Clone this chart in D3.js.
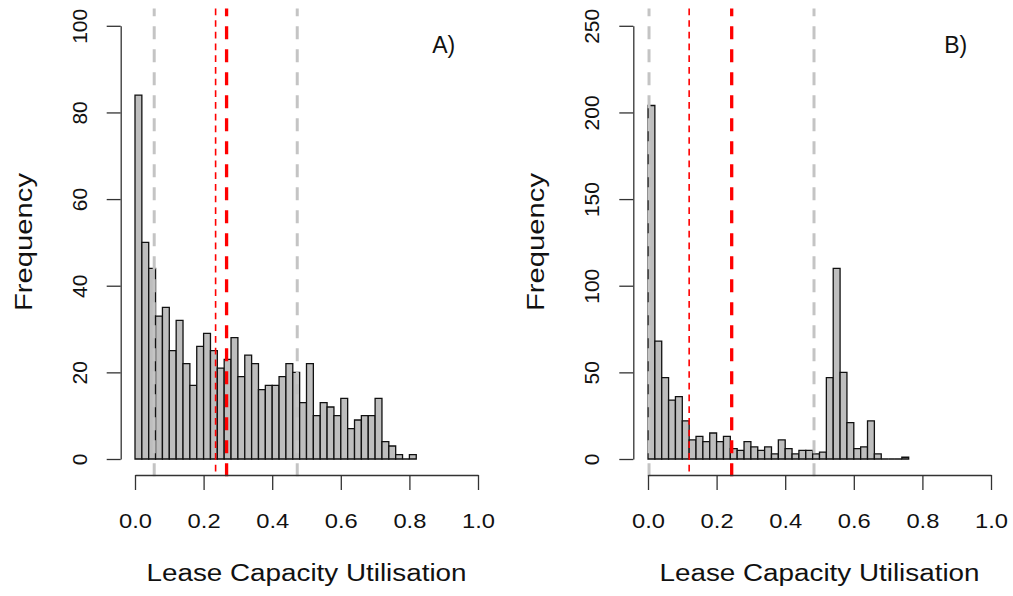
<!DOCTYPE html>
<html>
<head>
<meta charset="utf-8">
<script src="https://cdn.jsdelivr.net/npm/d3@7"></script>
<style>
  html, body { margin: 0; padding: 0; background: #fff; }
  svg { display: block; }
  text { font-family: "Liberation Sans", Arial, sans-serif; fill: #111; }
</style>
</head>
<body>
<svg id="chart" width="1013" height="596"></svg>
<script>
// ---- data ----
const binWidth = 0.02;
const countsA = [84,50,44,33,35,25,32,22,17,26,29,25,21,23,28,19,24,22,16,17,17,19,22,20,13,22,10,13,12,10,14,7,9,10,10,14,4,3,1,0,1];
const countsB = [204,68,47,34,36,22,11,13,10,15,10,13,6,5,10,7,5,7,3,11,6,3,5,5,3,4,47,110,50,21,6,7,22,3,0,0,0,1];
const xTicks = [0, 0.2, 0.4, 0.6, 0.8, 1.0];
const yTicksA = [0, 20, 40, 60, 80, 100];
const yTicksB = [0, 50, 100, 150, 200, 250];
const grayLinesA = [0.056, 0.473];
const redThinA = [0.235];
const redThickA = [0.267];
const grayLinesB = [0.003, 0.484];
const redThinB = [0.120];
const redThickB = [0.244];
const panelLabels = ["A)", "B)"];
const xLabel = "Lease Capacity Utilisation";
const yLabel = "Frequency";

const svg = d3.select("#chart");

function stretch(sel, factor) {
  sel.each(function() {
    const len = this.getComputedTextLength();
    d3.select(this).attr("textLength", len * factor).attr("lengthAdjust", "spacingAndGlyphs");
  });
}

function panel(opts) {
  const { counts, yMax, yTicks, x0, yAxisX, grays, redThin, redThick, label } = opts;
  const x = d3.scaleLinear().domain([0, 1]).range([x0, x0 + 343]);
  const y = d3.scaleLinear().domain([0, yMax]).range([459, 25.8]);
  const g = svg.append("g");
  const pad = yMax * 0.04;

  // bars (paths so that zero-count bins still draw a baseline segment)
  const bins = counts.map((c, i) => ({ x0: i * binWidth, x1: (i + 1) * binWidth, c }));
  g.selectAll("path.bar").data(bins).join("path")
    .attr("class", "bar")
    .attr("d", d => `M${x(d.x0)},${y(0)}H${x(d.x1)}V${y(d.c)}H${x(d.x0)}Z`)
    .attr("fill", "#bebebe")
    .attr("stroke", "#111")
    .attr("stroke-width", 1.3);

  // reference lines
  const yTop = y(yMax + pad), yBot = y(-pad);
  const lineSets = [
    { vals: grays, color: "#c4c4c4", w: 3, dash: "13,10", off: -17.7 + 23 },
    { vals: redThin, color: "#ff0000", w: 1.6, dash: "6.7,5", off: 0 },
    { vals: redThick, color: "#ff0000", w: 3.3, dash: "13,10", off: -17.7 + 23 }
  ];
  lineSets.forEach(s => {
    g.selectAll(null).data(s.vals).join("line")
      .attr("x1", d => x(d)).attr("x2", d => x(d))
      .attr("y1", yTop).attr("y2", yBot)
      .attr("stroke", s.color)
      .attr("stroke-width", s.w)
      .attr("stroke-dasharray", s.dash)
      .attr("stroke-dashoffset", s.off);
  });

  // x axis
  const xa = g.append("g").attr("transform", "translate(0,475)")
    .call(d3.axisBottom(x).tickValues(xTicks).tickFormat(d3.format(".1f")).tickSize(15).tickSizeOuter(0));
  xa.select(".domain").attr("stroke", "#333").attr("stroke-width", 1.3);
  xa.selectAll(".tick line").attr("stroke", "#333").attr("stroke-width", 1.3);
  const xt = xa.selectAll(".tick text")
    .attr("y", 53).attr("dy", null)
    .attr("font-size", 21).attr("fill", "#111")
    .style("font-family", "'Liberation Sans', Arial, sans-serif");
  stretch(xt, 1.13);

  // y axis
  const ya = g.append("g").attr("transform", `translate(${yAxisX},0)`)
    .call(d3.axisLeft(y).tickValues(yTicks).tickFormat(d3.format("d")).tickSize(14).tickSizeOuter(0));
  ya.select(".domain").attr("stroke", "#333").attr("stroke-width", 1.3);
  ya.selectAll(".tick line").attr("stroke", "#333").attr("stroke-width", 1.3);
  ya.selectAll(".tick text")
    .attr("transform", "rotate(-90)")
    .attr("x", 0).attr("y", -34).attr("dy", null)
    .attr("text-anchor", "middle")
    .attr("font-size", 21).attr("fill", "#111")
    .style("font-family", "'Liberation Sans', Arial, sans-serif");

  // axis titles
  g.append("text")
    .attr("x", (x(0) + x(1)) / 2).attr("y", 581)
    .attr("text-anchor", "middle")
    .attr("font-size", 23)
    .attr("textLength", 320).attr("lengthAdjust", "spacingAndGlyphs")
    .text(xLabel);

  g.append("text")
    .attr("transform", `translate(${yAxisX - 89},242) rotate(-90)`)
    .attr("text-anchor", "middle")
    .attr("font-size", 24)
    .attr("textLength", 138).attr("lengthAdjust", "spacingAndGlyphs")
    .text(yLabel);

  // panel label
  g.append("text")
    .attr("x", x(0.9) + (label === "B)" ? -1 : 0)).attr("y", 53)
    .attr("text-anchor", "middle")
    .attr("font-size", 23)
    .text(label);
}

panel({ counts: countsA, yMax: 100, yTicks: yTicksA, x0: 135, yAxisX: 120.7,
  grays: grayLinesA, redThin: redThinA, redThick: redThickA, label: panelLabels[0] });
panel({ counts: countsB, yMax: 250, yTicks: yTicksB, x0: 648, yAxisX: 633.3,
  grays: grayLinesB, redThin: redThinB, redThick: redThickB, label: panelLabels[1] });
</script>
</body>
</html>
